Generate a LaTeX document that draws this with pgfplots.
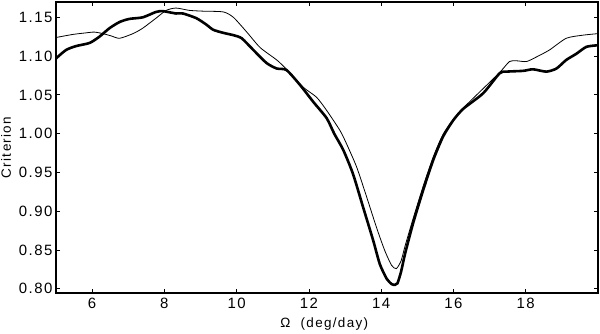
\documentclass[border=0pt]{standalone}
\usepackage{fontspec}
\setmainfont[LetterSpace=10]{Liberation Sans}
\usepackage{pgfplots}
\pgfplotsset{compat=1.18}
\usetikzlibrary{calc}

% thick curve
\pgfplotstableread{
x y
5.00 1.097
5.28 1.108
5.56 1.113
5.93 1.117
6.20 1.125
6.48 1.136
6.76 1.144
7.03 1.148
7.40 1.150
7.77 1.157
7.96 1.158
8.32 1.155
8.51 1.155
8.88 1.149
9.15 1.141
9.35 1.134
9.63 1.130
9.91 1.127
10.14 1.123
10.46 1.108
10.83 1.091
11.11 1.084
11.38 1.082
11.75 1.063
12.12 1.041
12.49 1.020
12.70 1.000
12.95 0.979
13.22 0.948
13.50 0.905
13.78 0.862
13.96 0.832
14.15 0.813
14.29 0.806
14.38 0.805
14.45 0.807
14.55 0.822
14.66 0.845
14.88 0.884
15.16 0.927
15.44 0.966
15.71 0.996
15.99 1.017
16.27 1.032
16.82 1.052
17.28 1.078
17.47 1.080
17.93 1.081
18.20 1.083
18.57 1.080
18.85 1.084
19.12 1.095
19.40 1.103
19.68 1.112
20.00 1.114
}\thick

% thin curve
\pgfplotstableread{
x y
5.00 1.124
5.47 1.128
5.83 1.130
6.06 1.131
6.30 1.129
6.53 1.126
6.76 1.123
7.13 1.129
7.40 1.136
7.77 1.149
8.05 1.159
8.32 1.162
8.69 1.159
9.06 1.158
9.63 1.157
9.91 1.150
10.28 1.131
10.65 1.111
11.11 1.095
11.38 1.083
11.84 1.060
12.21 1.047
12.49 1.030
12.86 1.004
13.04 0.987
13.32 0.957
13.60 0.918
13.87 0.879
14.10 0.849
14.29 0.830
14.42 0.826
14.55 0.836
14.66 0.855
14.88 0.890
15.16 0.932
15.44 0.970
15.71 0.999
15.99 1.018
16.27 1.033
16.73 1.054
17.28 1.079
17.55 1.093
17.74 1.094
18.02 1.093
18.30 1.099
18.66 1.108
19.12 1.123
19.58 1.127
20.00 1.129
}\thin

\begin{document}
\begin{tikzpicture}
\begin{axis}[
    scale only axis,
    width=542bp, height=291bp,
    xmin=5, xmax=20,
    ymin=0.7945, ymax=1.1698,
    xtick={6,8,...,18},
    ytick={0.80,0.85,...,1.16},
    yticklabel style={/pgf/number format/.cd, fixed, fixed zerofill, precision=2, assume math mode=true},
    xticklabel style={/pgf/number format/assume math mode=true, yshift=-2bp},
    tick label style={font=\fontsize{15}{17}\selectfont},
    label style={font=\fontsize{13.5}{15}\selectfont},
    tick align=inside,
    major tick length=4bp,
    tick style={black, line width=0.8bp},
    axis line style={line width=1.6bp},
    xlabel={Ω\ \ (deg/day)},
    ylabel={Criterion},
    xlabel style={at={(axis description cs:0.495,-0.105)}, anchor=center},
    ylabel style={at={(axis description cs:-0.092,0.5)}, anchor=center},
]
\addplot[black, line width=2.6bp, smooth, tension=0.4] table[x=x, y=y] {\thick};
\addplot[black, line width=0.8bp, smooth, tension=0.4] table[x=x, y=y] {\thin};
\coordinate (sw) at (rel axis cs:0,0);
\coordinate (ne) at (rel axis cs:1,1);
\end{axis}
\pgfresetboundingbox
\path[use as bounding box] ($(sw)+(-56bp,-41bp)$) rectangle ($(ne)+(2bp,2bp)$);
\end{tikzpicture}
\end{document}
